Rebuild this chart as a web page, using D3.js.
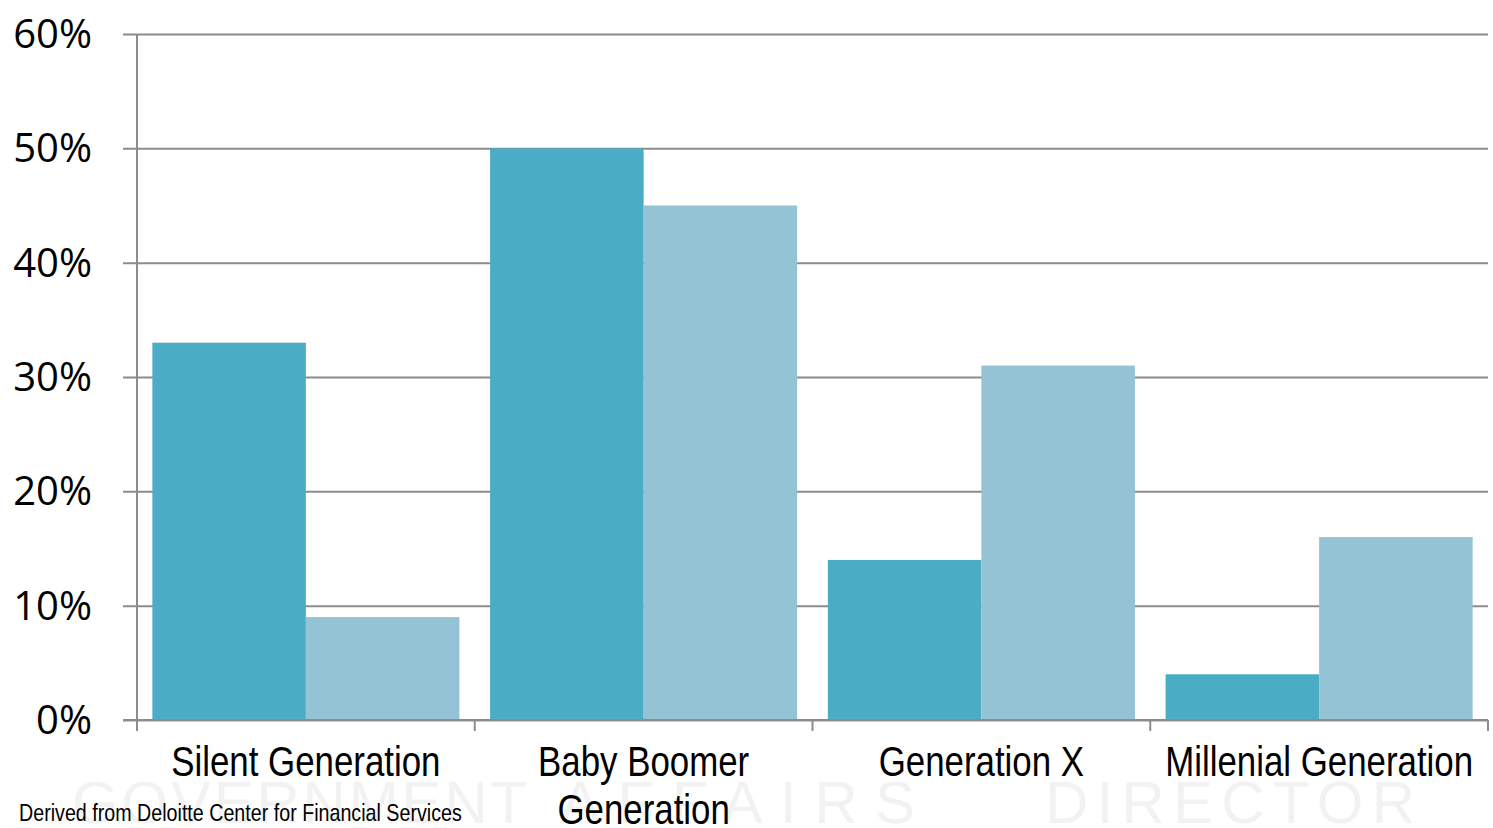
<!DOCTYPE html>
<html>
<head>
<meta charset="utf-8">
<script src="https://cdn.jsdelivr.net/npm/d3@7/dist/d3.min.js"></script>
<style>
  html, body { margin: 0; padding: 0; background: #fff; }
  svg { display: block; }
</style>
</head>
<body>
<svg id="chart" width="1493" height="828"></svg>
<script>
// Generations and their two measured shares (percent)
const categories = ["Silent Generation", "Baby Boomer\nGeneration", "Generation X", "Millenial Generation"];
const seriesNames = ["Series A", "Series B"];
const seriesA = [33, 50, 14, 4];
const seriesB = [9, 45, 31, 16];
const yTicks = [0, 10, 20, 30, 40, 50, 60];
const sourceNote = "Derived from Deloitte Center for Financial Services";
const watermarkWords = ["GOVERNMENT", "AFFAIRS", "DIRECTOR"];
const colors = ["#4BACC6", "#93C3D5"];

const svg = d3.select("#chart");
const plot = { left: 137, right: 1488, top: 34, bottom: 720 };

// Faint spaced-out watermark lettering behind the labels
const wmSpans = [[72, 455], [560, 355], [1045, 370]]; // [start x, length]
svg.append("g").selectAll("text")
  .data(watermarkWords)
  .join("text")
  .attr("x", (d, i) => wmSpans[i][0])
  .attr("y", 823)
  .attr("textLength", (d, i) => wmSpans[i][1])
  .attr("lengthAdjust", "spacing")
  .attr("font-family", "Liberation Sans, Arial, sans-serif")
  .attr("font-size", 60)
  .attr("fill", "#f2f2f2")
  .text(d => d);

const x0 = d3.scaleBand().domain(categories).range([plot.left, plot.right]).padding(0);
const x1 = d3.scaleBand().domain(seriesNames).range([0, x0.bandwidth()])
  .paddingInner(0).paddingOuter(0.1);
const y = d3.scaleLinear().domain([0, 60]).range([plot.bottom, plot.top]);

// Horizontal gridlines with left tick stubs
svg.append("g")
  .attr("transform", `translate(${plot.left},0)`)
  .call(d3.axisLeft(y).tickValues(yTicks).tickSize(-(plot.right - plot.left)).tickSizeOuter(0).tickFormat(""))
  .call(g => g.select(".domain").remove())
  .call(g => g.selectAll(".tick line")
    .attr("x1", -14)
    .attr("stroke", "#8c8c8c").attr("stroke-width", 2));

// Y tick labels
svg.append("g").selectAll("text")
  .data(yTicks)
  .join("text")
  .attr("x", 92)
  .attr("y", d => y(d) + 14)
  .attr("text-anchor", "end")
  .attr("font-family", "Open Sans, sans-serif")
  .attr("font-size", 40)
  .attr("fill", "#000")
  .text(d => d + "%");

// Bars
const data = categories.map((c, i) => ({ cat: c, vals: [seriesA[i], seriesB[i]] }));
const groups = svg.append("g").selectAll("g")
  .data(data)
  .join("g")
  .attr("transform", d => `translate(${x0(d.cat)},0)`);
groups.selectAll("rect")
  .data(d => d.vals.map((v, j) => ({ name: seriesNames[j], v, j })))
  .join("rect")
  .attr("x", d => x1(d.name))
  .attr("width", x1.bandwidth())
  .attr("y", d => y(d.v))
  .attr("height", d => y(0) - y(d.v))
  .attr("fill", d => colors[d.j]);

// Axis lines
svg.append("line")
  .attr("x1", plot.left).attr("x2", plot.left).attr("y1", plot.top).attr("y2", plot.bottom + 11)
  .attr("stroke", "#8c8c8c").attr("stroke-width", 2);
svg.append("line")
  .attr("x1", plot.left - 14).attr("x2", plot.right).attr("y1", plot.bottom).attr("y2", plot.bottom)
  .attr("stroke", "#8c8c8c").attr("stroke-width", 2);

// Category boundary ticks
const bounds = categories.map(c => x0(c)).concat([plot.right]);
svg.append("g").selectAll("line")
  .data(bounds.slice(1))
  .join("line")
  .attr("x1", d => d).attr("x2", d => d)
  .attr("y1", plot.bottom).attr("y2", plot.bottom + 11)
  .attr("stroke", "#8c8c8c").attr("stroke-width", 2);

// Category labels in a condensed face (horizontally squeezed sans)
const catFont = "Liberation Sans, Arial, sans-serif";
const squeeze = 0.83;
svg.append("g").selectAll("g")
  .data(categories)
  .join("g")
  .attr("transform", d => `translate(${x0(d) + x0.bandwidth() / 2},0) scale(${squeeze},1)`)
  .append("text")
  .attr("text-anchor", "middle")
  .attr("font-family", catFont)
  .attr("font-size", 42)
  .attr("fill", "#000")
  .each(function (d) {
    d3.select(this).selectAll("tspan")
      .data(d.split("\n"))
      .join("tspan")
      .attr("x", 0)
      .attr("y", (l, i) => 776 + i * 48)
      .text(l => l);
  });

// Source note
svg.append("g")
  .attr("transform", "translate(19,821) scale(0.82,1)")
  .append("text")
  .attr("font-family", catFont)
  .attr("font-size", 24)
  .attr("fill", "#000")
  .text(sourceNote);
</script>
</body>
</html>
